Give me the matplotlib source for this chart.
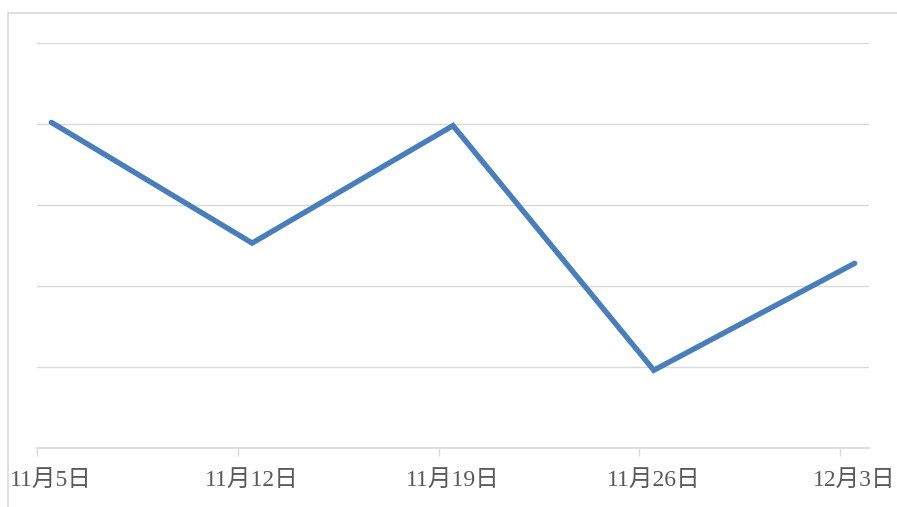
import numpy as np
import matplotlib
matplotlib.use("Agg")
import matplotlib.pyplot as plt
from matplotlib.patches import Rectangle

# weekly data, dates and values
labels = ["11月5日", "11月12日", "11月19日", "11月26日", "12月3日"]
values = [4.02, 2.53, 3.98, 0.96, 2.28]

plt.rcParams['font.family'] = ['Liberation Serif', 'Noto Sans CJK SC']

fig = plt.figure(figsize=(8.97, 5.07), dpi=100)
W, H = 897.0, 507.0

# outer chart frame (only left and top edges are visible)
fig.patches.append(Rectangle((8 / W, -0.5), 2.0, 1.5 - 13 / H,
                             transform=fig.transFigure, fill=False,
                             edgecolor="#d9d9d9", linewidth=1.2))

ax = fig.add_axes([37 / W, 1 - 448 / H, (869 - 37) / W, (448 - 43) / H])

# date axis: one day per unit, points centered in their day
x = np.arange(len(values)) * 7 + 0.5
ax.plot(x, values, color="#4a7ebb", linewidth=3.9, solid_joinstyle="miter",
        solid_capstyle="round", zorder=3)

ax.set_xlim(0, 29)
ax.set_ylim(0, 5)
ax.set_yticks([1, 2, 3, 4, 5])
ax.set_yticklabels([])
ax.tick_params(axis="y", length=0)
ax.grid(axis="y", color="#d9d9d9", linewidth=1.0)

ax.set_xticks(np.arange(len(values)) * 7)
ax.set_xticklabels([])
ax.tick_params(axis="x", which="major", length=6, width=1.0, color="#d9d9d9")
ax.set_xticks(x, minor=True)
ax.set_xticklabels(labels, minor=True, fontsize=17, color="#595959")
ax.tick_params(axis="x", which="minor", length=0, pad=16)

for s in ["top", "right", "left"]:
    ax.spines[s].set_visible(False)
ax.spines["bottom"].set_color("#d9d9d9")
ax.spines["bottom"].set_linewidth(1.2)
ax.set_axisbelow(True)

fig.savefig("out.png", dpi=100)
